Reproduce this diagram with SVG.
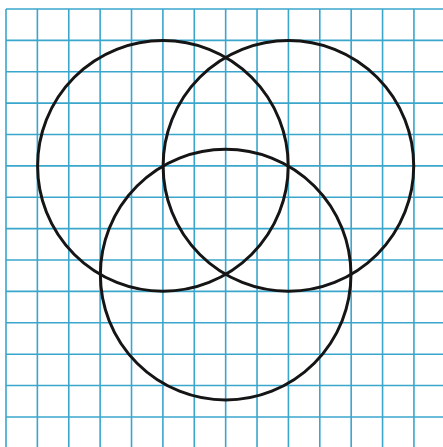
<svg xmlns="http://www.w3.org/2000/svg" width="443" height="447" viewBox="0 0 443 447">
<style>
.grid{stroke:#3aa6cc;stroke-width:1.6;fill:none}
.circ{stroke:#151515;stroke-width:3;fill:none}
</style>
<rect width="443" height="447" fill="#ffffff"/>
<g id="grid" class="grid">
<path d="M6,9V447M37.38,9V447M68.76,9V447M100.14,9V447M131.52,9V447M162.9,9V447M194.28,9V447M225.66,9V447M257.04,9V447M288.42,9V447M319.8,9V447M351.18,9V447M382.56,9V447M413.94,9V447"/>
<path d="M6,9H443M6,40.38H443M6,71.76H443M6,103.14H443M6,134.52H443M6,165.9H443M6,197.28H443M6,228.66H443M6,260.04H443M6,291.42H443M6,322.8H443M6,354.18H443M6,385.56H443M6,416.94H443"/>
</g>
<g id="circle-left"><circle class="circ" cx="162.9" cy="165.9" r="125.3"/></g>
<g id="circle-right"><circle class="circ" cx="288.42" cy="165.9" r="125.3"/></g>
<g id="circle-bottom"><circle class="circ" cx="225.66" cy="274.6" r="125.3"/></g>
</svg>
